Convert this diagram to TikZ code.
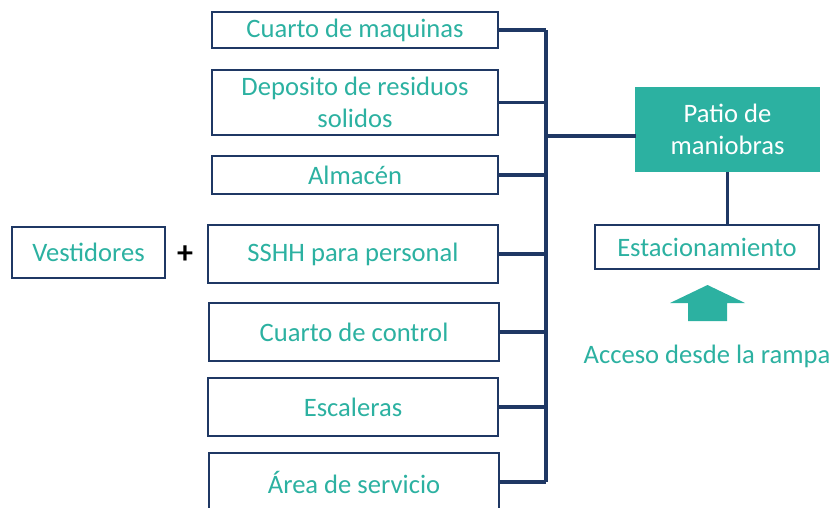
\documentclass[tikz,border=0pt]{standalone}
\usepackage{fontspec}
\setmainfont{Carlito}
\usepackage{xcolor}
\usepackage{tikz}

\definecolor{teal}{HTML}{2CB1A1}
\definecolor{navy}{HTML}{1F3864}

\begin{document}
\begin{tikzpicture}[
      x=1pt, y=-1pt,
      box/.style={rectangle, draw=navy, line width=2.6pt, minimum width=286pt, minimum height=58pt, align=center, text=teal, inner sep=0pt, font=\fontsize{26.6}{32.5}\selectfont},
      conn/.style={draw=navy, line width=3.2pt}
    ]
      \clip (0,0) rectangle (834,507);

      \node[box, minimum height=36pt] (maq)   at (355,30)    {Cuarto de maquinas};
      \node[box, minimum height=65pt] (depo)  at (355,102.5) {Deposito de residuos\\solidos};
      \node[box, minimum height=38pt] (alm)   at (355,175)   {Almacén};
      \node[box, minimum width=290pt] (sshh)  at (353,254)   {SSHH para personal};
      \node[box, minimum width=290pt] (ctrl)  at (354,332)   {Cuarto de control};
      \node[box, minimum width=290pt] (esc)   at (353,407)   {Escaleras};
      \node[box, minimum width=290pt] (area)  at (354,482)   {Área de servicio};

      \node[box, minimum width=153pt, minimum height=51pt] (vest) at (88.5,252.5) {Vestidores};
      \node[font=\fontsize{32}{36}\selectfont\bfseries] (plus) at (185,255) {+};

      \node[box, fill=teal, draw=teal, text=white, minimum width=183pt, minimum height=83pt] (patio) at (727.5,129.5) {Patio de\\maniobras};
      \node[box, minimum width=224pt, minimum height=44pt] (estac) at (707,247) {Estacionamiento};

      \coordinate (bustop) at (546,30);
      \coordinate (busbot) at (546,482);
      \coordinate (patioin) at (636,136);

      % ramas hacia el bus
      \foreach \b in {maq, depo, alm, sshh, ctrl, esc, area}
        \draw[conn] (\b.east) -- (\b.east -| bustop);
      \draw[conn] (bustop) -- (busbot);
      \draw[conn] (patioin -| bustop) -- (patioin);
      \draw[conn] (patio.south) -- (patio.south |- estac.north);

      % flecha de acceso
      \fill[teal] (688,321) -- (688,303) -- (670,303) -- (707.5,285) -- (745,303) -- (727,303) -- (727,321) -- cycle;
      \node[text=teal, font=\fontsize{26.6}{32.5}\selectfont] (acceso) at (707,356) {Acceso desde la rampa};
\end{tikzpicture}
\end{document}
